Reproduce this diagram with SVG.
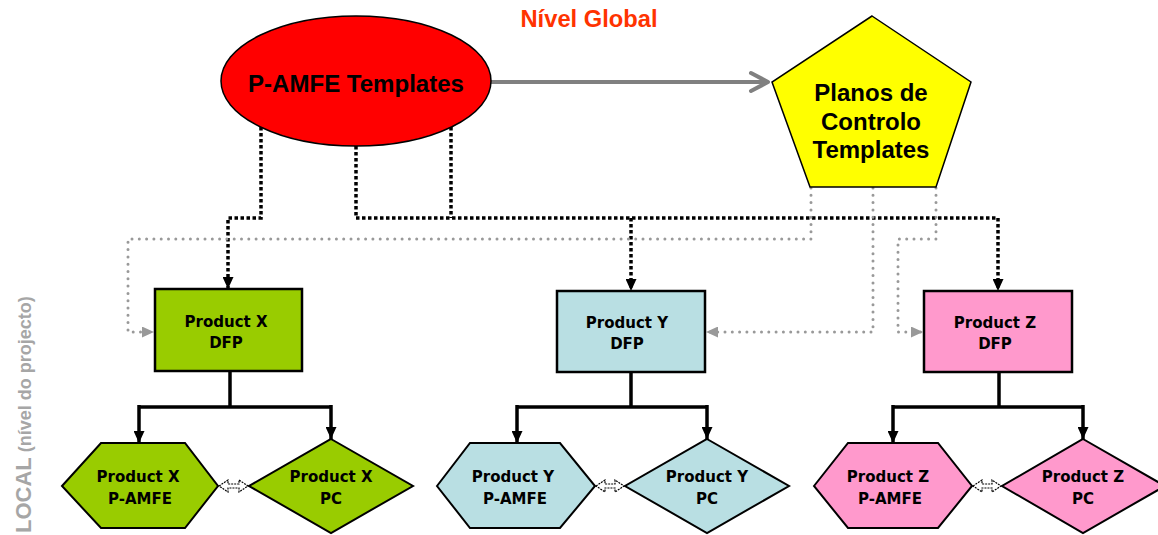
<svg xmlns="http://www.w3.org/2000/svg" width="1158" height="535" viewBox="0 0 1158 535">
  <style>
    .big { font-family: "Liberation Sans", Arial, sans-serif; font-weight: bold; font-size: 24px; text-anchor: middle; fill: #000; }
    .lbl { font-family: "DejaVu Sans", "Liberation Sans", sans-serif; font-weight: bold; font-size: 15px; text-anchor: middle; fill: #000; }
    .box { stroke: #000; stroke-width: 2.5; }
    .shape { stroke: #000; stroke-width: 2; }
    .blkdot { fill: none; stroke: #000; stroke-width: 3.5; stroke-dasharray: 3.5 2.5; }
    .grydot { fill: none; stroke: #999; stroke-width: 3; stroke-linecap: round; stroke-dasharray: 0 7.3; }
    .tree { fill: none; stroke: #000; stroke-width: 3.5; }
    .pair { fill: #fff; stroke: #000; stroke-width: 1.2; stroke-dasharray: 2 1; }
    .green { fill: #99CC00; }
    .blue { fill: #B9DFE3; }
    .pink { fill: #FF99CC; }
  </style>
  <defs>
    <marker id="blk" markerUnits="userSpaceOnUse" viewBox="0 0 12 11" refX="12" refY="5.5" markerWidth="12" markerHeight="11" orient="auto">
      <path d="M0,0 L12,5.5 L0,11 z" fill="#000"/>
    </marker>
    <marker id="gry" markerUnits="userSpaceOnUse" viewBox="0 0 12 11" refX="12" refY="5.5" markerWidth="12" markerHeight="11" orient="auto">
      <path d="M0,0 L12,5.5 L0,11 z" fill="#999"/>
    </marker>
  </defs>

  <rect width="1158" height="535" fill="#fff"/>

  <!-- headings -->
  <text x="589" y="27" font-family="Liberation Sans, Arial, sans-serif" font-weight="bold" font-size="24" fill="#FF3300" text-anchor="middle" textLength="137" lengthAdjust="spacingAndGlyphs">Nível Global</text>
  <text transform="translate(31,533) rotate(-90)" font-family="Liberation Sans, Arial, sans-serif" font-weight="bold" fill="#A6A6A6"><tspan font-size="22">LOCAL</tspan><tspan font-size="18"> (nível do projecto)</tspan></text>

  <!-- connectors -->
  <g id="connectors">
    <!-- global link between templates -->
    <path d="M491,82 H766" fill="none" stroke="#808080" stroke-width="4"/>
    <path d="M751,73 L768,82 L751,91" fill="none" stroke="#808080" stroke-width="4" stroke-linecap="round" stroke-linejoin="round"/>

    <!-- P-AMFE templates to DFPs -->
    <path class="blkdot" d="M261,127 V218 H228 V289" marker-end="url(#blk)"/>
    <path class="blkdot" d="M356,146 V218 H998 V291" marker-end="url(#blk)"/>
    <path class="blkdot" d="M451,127 V218"/>
    <path class="blkdot" d="M631,218 V291" marker-end="url(#blk)"/>

    <!-- control plan templates to DFPs -->
    <path class="grydot" d="M811,188 V239 H128 V332 H154" marker-end="url(#gry)"/>
    <path class="grydot" d="M873,188 V332 H706" marker-end="url(#gry)"/>
    <path class="grydot" d="M936,188 V239 H898 V332 H923" marker-end="url(#gry)"/>

    <!-- DFP trees -->
    <path class="tree" d="M230,371 V407"/>
    <path class="tree" d="M139,407 H331"/>
    <path class="tree" d="M139,405 V443" marker-end="url(#blk)"/>
    <path class="tree" d="M331,405 V439" marker-end="url(#blk)"/>

    <path class="tree" d="M631,372 V407"/>
    <path class="tree" d="M517,407 H707"/>
    <path class="tree" d="M517,405 V443" marker-end="url(#blk)"/>
    <path class="tree" d="M707,405 V439" marker-end="url(#blk)"/>

    <path class="tree" d="M999,372 V407"/>
    <path class="tree" d="M893,407 H1083"/>
    <path class="tree" d="M893,405 V443" marker-end="url(#blk)"/>
    <path class="tree" d="M1083,405 V439" marker-end="url(#blk)"/>

    <!-- P-AMFE / PC pairings -->
    <polygon class="pair" points="219,486 228,480 228,484 239,484 239,480 248,486 239,492 239,488 228,488 228,492"/>
    <polygon class="pair" points="596,486 605,480 605,484 615,484 615,480 624,486 615,492 615,488 605,488 605,492"/>
    <polygon class="pair" points="973,486 982,480 982,484 992,484 992,480 1001,486 992,492 992,488 982,488 982,492"/>
  </g>

  <!-- global templates -->
  <g id="pamfe-templates">
    <ellipse cx="356" cy="81" rx="135" ry="65" fill="#FF0000" stroke="#000" stroke-width="1.5"/>
    <text class="big" x="356" y="92" font-size="26" textLength="216" lengthAdjust="spacingAndGlyphs">P-AMFE Templates</text>
  </g>
  <g id="control-plan-templates">
    <polygon points="872,16 971,82 936,187 810,187 772,82" fill="#FFFF00" stroke="#000" stroke-width="1.5"/>
    <text class="big" x="871" y="101">Planos de</text>
    <text class="big" x="871" y="130">Controlo</text>
    <text class="big" x="871" y="158">Templates</text>
  </g>

  <!-- product X -->
  <g id="dfp-x">
    <rect class="box green" x="155" y="289" width="147" height="82"/>
    <text class="lbl" x="226" y="327">Product X</text>
    <text class="lbl" x="226" y="348">DFP</text>
  </g>
  <g id="pamfe-x">
    <polygon class="shape green" points="62,486 101,443 185,443 218,486 185,528 101,528"/>
    <text class="lbl" x="138" y="482">Product X</text>
    <text class="lbl" x="140" y="504">P-AMFE</text>
  </g>
  <g id="pc-x">
    <polygon class="shape green" points="331,439 413,486 331,533 249,486"/>
    <text class="lbl" x="331" y="482">Product X</text>
    <text class="lbl" x="331" y="504">PC</text>
  </g>

  <!-- product Y -->
  <g id="dfp-y">
    <rect class="box blue" x="557" y="291" width="148" height="81"/>
    <text class="lbl" x="627" y="328">Product Y</text>
    <text class="lbl" x="627" y="349">DFP</text>
  </g>
  <g id="pamfe-y">
    <polygon class="shape blue" points="437,486 470,443 560,443 595,486 560,528 470,528"/>
    <text class="lbl" x="513" y="482">Product Y</text>
    <text class="lbl" x="515" y="504">P-AMFE</text>
  </g>
  <g id="pc-y">
    <polygon class="shape blue" points="707,439 789,486 707,533 625,486"/>
    <text class="lbl" x="707" y="482">Product Y</text>
    <text class="lbl" x="707" y="504">PC</text>
  </g>

  <!-- product Z -->
  <g id="dfp-z">
    <rect class="box pink" x="924" y="291" width="148" height="81"/>
    <text class="lbl" x="995" y="328">Product Z</text>
    <text class="lbl" x="995" y="349">DFP</text>
  </g>
  <g id="pamfe-z">
    <polygon class="shape pink" points="814,486 848,443 938,443 972,486 938,528 848,528"/>
    <text class="lbl" x="888" y="482">Product Z</text>
    <text class="lbl" x="890" y="504">P-AMFE</text>
  </g>
  <g id="pc-z">
    <polygon class="shape pink" points="1083,439 1165,486 1083,533 1002,486"/>
    <text class="lbl" x="1083" y="482">Product Z</text>
    <text class="lbl" x="1083" y="504">PC</text>
  </g>
</svg>
